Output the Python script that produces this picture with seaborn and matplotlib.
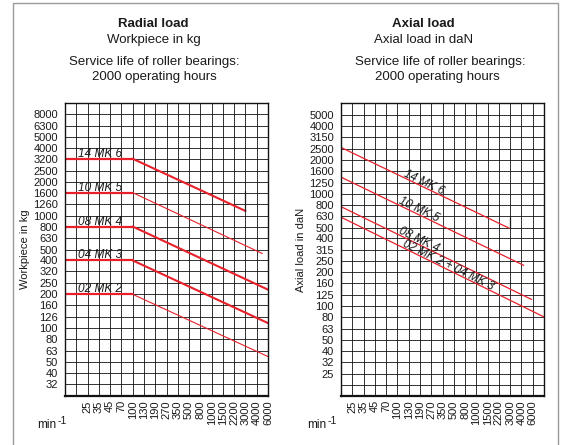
import numpy as np
import pandas as pd
import matplotlib
matplotlib.use('Agg')
import matplotlib.pyplot as plt
from matplotlib.patches import Rectangle
import seaborn as sns

sns.set_theme(style='white')
plt.rcParams['font.family'] = ['Liberation Sans', 'DejaVu Sans']

# speeds shown on the x axis (min-1), one per grid column
speeds = [25, 35, 45, 70, 100, 130, 190, 270, 350, 500, 800, 1000, 1500, 2200, 3000, 4000, 6000]

# radial load grid (kg)
radial_ticks = [32, 40, 50, 63, 80, 100, 126, 160, 200, 250, 320, 400, 500, 630, 800,
                1000, 1260, 1600, 2000, 2500, 3200, 4000, 5000, 6300, 8000]
# axial load grid (daN)
axial_ticks = [25, 32, 40, 50, 63, 80, 100, 125, 160, 200, 250, 315, 400, 500, 630, 800,
               1000, 1250, 1600, 2000, 2500, 3150, 4000, 5000]

# radial curves: column position of points, load in kg
radial_names = ['14 MK 6', '10 MK 5', '08 MK 4', '04 MK 3', '02 MK 2']
radial_flat = [3200, 1600, 800, 400, 200]
radial_end_col = [16, 17.5, 18, 18, 18]
radial_end_val = [1100, 460, 220, 111, 56]
radial_thick = [True, False, True, True, False]

# axial curves
axial_names = ['14 MK 6', '10 MK 5', '08 MK 4', '02 MK 2 + 04 MK 3']
axial_start = [2570, 1400, 766, 618]
axial_end_col = [14.9, 16.2, 16.9, 18]
axial_end_val = [494, 231, 115, 80.5]
axial_label_col = [7.2, 6.8, 6.8, 9.4]

red = '#e8202a'
ink = '#1a1a1a'
W, H = 563, 445
fig = plt.figure(figsize=(W / 100, H / 100), dpi=100)

def px_axes(x0, x1, y0, y1):
    return fig.add_axes([x0 / W, 1 - y1 / H, (x1 - x0) / W, (y1 - y0) / H])

ax1 = px_axes(65, 268, 103, 396)
ax2 = px_axes(341, 544, 103, 396)

def style(ax, yt, ylabels, ylim, xcols, xlabels):
    ax.set_yscale('log')
    ax.set_xlim(0, 18)
    ax.set_ylim(*ylim)
    ax.set_yticks(yt)
    ax.set_yticklabels(ylabels)
    ax.minorticks_off()
    ax.set_xticks(xcols)
    ax.set_xticklabels(xlabels, rotation=90)
    ax.tick_params(length=0, labelsize=8, colors=ink)
    ax.tick_params(axis='y', pad=5)
    ax.tick_params(axis='x', pad=3)
    ax.grid(True, color='#111111', lw=0.6)
    ax.set_axisbelow(True)
    for s in ax.spines.values():
        s.set_color('#111111')
        s.set_linewidth(1.0)
    ax.spines['bottom'].set_linewidth(1.6)

# left panel
style(ax1, radial_ticks, [str(v) for v in radial_ticks], (25, 10000),
      list(range(1, 19)), [''] + [str(s) for s in speeds])
for name, flat, ec, ev, thick in zip(radial_names, radial_flat, radial_end_col,
                                      radial_end_val, radial_thick):
    df = pd.DataFrame({'col': [0, 6], 'load': [flat, flat]})
    sns.lineplot(data=df, x='col', y='load', ax=ax1, color=red, lw=1.6)
    df = pd.DataFrame({'col': [6, ec], 'load': [flat, ev]})
    sns.lineplot(data=df, x='col', y='load', ax=ax1, color=red, lw=1.5 if thick else 0.8)
    ax1.text(1.15, flat * 1.04, name, fontsize=8.6, style='italic', color=ink,
             ha='left', va='baseline')
ax1.plot([16, 16], [1100, 1650], color=ink, lw=0.9)
ax1.set_xlabel('')
ax1.set_ylabel('Workpiece in kg', fontsize=8, color=ink)
ax1.yaxis.label.set_va('center')
ax1.yaxis.set_label_coords(-0.197, 0.5)

# right panel
style(ax2, [20] + axial_ticks, [''] + [str(v) for v in axial_ticks], (16, 6370),
      list(range(1, 18)), [str(s) for s in speeds])
for name, sv, ec, ev, lc in zip(axial_names, axial_start, axial_end_col,
                                 axial_end_val, axial_label_col):
    df = pd.DataFrame({'col': [0, ec], 'load': [sv, ev]})
    sns.lineplot(data=df, x='col', y='load', ax=ax2, color=red, lw=0.9)
    ly = 10 ** (np.log10(sv) + (np.log10(ev) - np.log10(sv)) * lc / ec)
    p1 = ax2.transData.transform((0, sv))
    p2 = ax2.transData.transform((ec, ev))
    ang = np.degrees(np.arctan2(p2[1] - p1[1], p2[0] - p1[0]))
    ax2.text(lc, ly * 1.03, name, fontsize=8.4, style='italic', color=ink,
             ha='center', va='baseline', rotation=ang, rotation_mode='anchor')
ax2.plot([15, 15], [494, 620], color=ink, lw=0.9)
ax2.set_xlabel('')
ax2.set_ylabel('Axial load in daN', fontsize=8, color=ink)
ax2.yaxis.label.set_va('center')
ax2.yaxis.set_label_coords(-0.197, 0.5)

# headings
def ftext(x, y, s, **kw):
    fig.text(x / W, 1 - y / H, s, color=ink, **kw)

for cx, lines in [(153, ['Radial load', 'Workpiece in kg']),
                  (423, ['Axial load', 'Axial load in daN'])]:
    ftext(cx, 24, lines[0], fontsize=9.5, weight='bold', ha='center', va='center')
    ftext(cx + 1, 40, lines[1], fontsize=9.5, ha='center', va='center')
ftext(154, 62, 'Service life of roller bearings:', fontsize=9.5, ha='center', va='center')
ftext(154, 77, '2000 operating hours', fontsize=9.5, ha='center', va='center')
ftext(440, 62, 'Service life of roller bearings:', fontsize=9.5, ha='center', va='center')
ftext(437, 77, '2000 operating hours', fontsize=9.5, ha='center', va='center')

# speed unit, min-1
for x0 in [37, 307]:
    ftext(x0, 425, 'min', fontsize=8.5, ha='left', va='center')
    ftext(x0 + 21, 421, '-1', fontsize=7.5, ha='left', va='center')

fig.patches.append(Rectangle((13 / W, -0.05), (558 - 13) / W, 1.05 - 3 / H,
                             transform=fig.transFigure, fill=False,
                             edgecolor='#9a9a9a', lw=1.0))

fig.savefig('out.png', dpi=100)
